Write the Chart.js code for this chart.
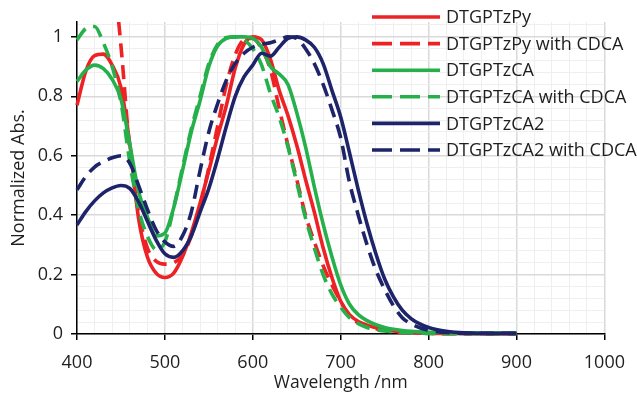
<!DOCTYPE html>
<html>
<head>
<meta charset="utf-8">
<script src="https://cdn.jsdelivr.net/npm/chart.js@4/dist/chart.umd.min.js"></script>
<style>
  html, body { margin: 0; padding: 0; background: #ffffff; }
  #wrap { width: 637px; height: 394px; position: relative; }
</style>
</head>
<body>
<div id="wrap"><canvas id="c" width="637" height="394"></canvas></div>
<script>
// ---- data ----
const wavelengths = [400,410,420,430,440,450,460,470,480,490,500,510,520,530,540,550,560,570,580,590,600,610,620,630,640,650,660,670,680,690,700,710,720,730,740,750,760,770,780,790,800,810,820,830,840,850,860,870,880,890,900];

const seriesNames = ["DTGPTzPy", "DTGPTzPy with CDCA", "DTGPTzCA", "DTGPTzCA with CDCA", "DTGPTzCA2", "DTGPTzCA2 with CDCA"];

const dtgptzPy = [0.77,0.885,0.937,0.942,0.905,0.83,0.64,0.39,0.26,0.205,0.19,0.205,0.26,0.34,0.44,0.55,0.665,0.77,0.895,0.975,1.0,0.99,0.925,0.82,0.735,0.635,0.52,0.41,0.29,0.19,0.11,0.065,0.042,0.03,0.021,0.015,0.01,0.007,0.005,0.004,0.003,0.002,0.002,0.002,0.002,0.002,0.001,0.001,0.001,0.001,0.001];

const dtgptzPyCDCA = [1.35,1.42,1.44,1.40,1.25,0.97,0.62,0.41,0.29,0.245,0.235,0.24,0.265,0.33,0.43,0.56,0.70,0.84,0.94,0.99,0.995,0.96,0.89,0.76,0.635,0.52,0.40,0.31,0.23,0.165,0.11,0.06,0.038,0.027,0.018,0.012,0.008,0.005,0.004,0.003,0.002,0.001,0.001,0.001,0.001,0.001,0.001,0.001,0.001,0.001,0.001];

const dtgptzCA = [0.85,0.888,0.905,0.893,0.857,0.79,0.64,0.48,0.395,0.33,0.34,0.425,0.55,0.68,0.785,0.90,0.97,0.995,1.0,1.0,0.995,0.965,0.90,0.875,0.84,0.745,0.63,0.495,0.37,0.26,0.165,0.10,0.065,0.045,0.031,0.022,0.016,0.012,0.009,0.007,0.006,0.005,0.004,0.004,0.004,0.004,0.003,0.003,0.003,0.003,0.003];

const dtgptzCACDCA = [0.99,1.028,1.035,0.98,0.90,0.78,0.58,0.42,0.33,0.285,0.31,0.425,0.56,0.69,0.80,0.91,0.975,0.998,1.0,0.99,0.96,0.905,0.81,0.73,0.63,0.51,0.39,0.29,0.20,0.135,0.09,0.055,0.035,0.022,0.015,0.01,0.007,0.005,0.004,0.003,0.002,0.002,0.001,0.001,0.001,0.001,0.001,0.001,0.001,0.001,0.001];

const dtgptzCA2 = [0.367,0.412,0.448,0.475,0.492,0.50,0.49,0.445,0.38,0.316,0.27,0.258,0.28,0.33,0.41,0.49,0.59,0.70,0.80,0.865,0.905,0.945,0.935,0.965,0.995,1.0,0.99,0.965,0.91,0.82,0.73,0.61,0.485,0.37,0.27,0.185,0.125,0.08,0.052,0.034,0.022,0.014,0.009,0.006,0.004,0.003,0.002,0.002,0.002,0.002,0.002];

const dtgptzCA2CDCA = [0.485,0.53,0.562,0.58,0.593,0.60,0.575,0.50,0.42,0.35,0.31,0.295,0.33,0.41,0.55,0.68,0.775,0.855,0.91,0.945,0.965,0.975,0.98,0.99,1.0,0.995,0.96,0.91,0.84,0.755,0.66,0.51,0.40,0.30,0.215,0.15,0.095,0.055,0.034,0.021,0.013,0.008,0.005,0.003,0.002,0.002,0.002,0.002,0.002,0.002,0.002];

const xTickLabels = ["400","500","600","700","800","900","1000"];
const yTickLabels = ["0","0.2","0.4","0.6","0.8","1"];

// ---- styles ----
const RED = '#ee2124', GREEN = '#26b04b', NAVY = '#1d2469';
const FONT = '"Open Sans", "Liberation Sans", sans-serif';
const TEXT = '#1e1e1e';
const DASH = [14, 8];

const seriesValues = [dtgptzPy, dtgptzPyCDCA, dtgptzCA, dtgptzCACDCA, dtgptzCA2, dtgptzCA2CDCA];
const seriesColors = [RED, RED, GREEN, GREEN, NAVY, NAVY];
const seriesDashed = [false, true, false, true, false, true];

const datasets = seriesValues.map((vals, i) => ({
  label: seriesNames[i],
  data: wavelengths.map((w, k) => ({x: w, y: vals[k]})),
  borderColor: seriesColors[i],
  backgroundColor: seriesColors[i],
  borderWidth: 3.6,
  borderDash: seriesDashed[i] ? DASH : [],
  pointRadius: 0,
  cubicInterpolationMode: 'monotone',
  fill: false,
  order: 10 - i,
  clip: {left: 2, top: 0, right: 2, bottom: 4}
}));

function isMult(v, step) {
  const r = v / step;
  return Math.abs(r - Math.round(r)) < 1e-6;
}

const legendPlugin = {
  id: 'insideLegend',
  afterDraw(chart) {
    const ctx = chart.ctx;
    chart.data.datasets.forEach((ds, i) => {
      const y = 17 + i * 26.6;
      ctx.save();
      ctx.strokeStyle = ds.borderColor;
      ctx.lineWidth = 3.6;
      ctx.setLineDash(seriesDashed[i] ? [20, 8] : []);
      ctx.beginPath();
      ctx.moveTo(372, y);
      ctx.lineTo(440, y);
      ctx.stroke();
      ctx.setLineDash([]);
      ctx.fillStyle = TEXT;
      ctx.font = '18px ' + FONT;
      ctx.textBaseline = 'middle';
      ctx.textAlign = 'left';
      ctx.fillText(ds.label, 446, y + 1);
      ctx.restore();
    });
  }
};

new Chart(document.getElementById('c'), {
  type: 'line',
  data: { datasets },
  plugins: [legendPlugin],
  options: {
    responsive: false,
    animation: false,
    events: [],
    layout: { padding: { top: 22, right: 29, left: 0, bottom: 0 } },
    plugins: { legend: { display: false }, tooltip: { enabled: false } },
    scales: {
      x: {
        type: 'linear',
        min: 400, max: 1000,
        afterBuildTicks(scale) {
          const t = [];
          for (let v = 400; v <= 1000; v += 20) t.push({value: v});
          scale.ticks = t;
        },
        afterFit(scale) { scale.height = 60; },
        ticks: {
          autoSkip: false,
          maxRotation: 0,
          padding: 12,
          color: TEXT,
          font: { family: FONT, size: 18 },
          callback(v) {
            if (!isMult(v, 100)) return '';
            const idx = Math.round((v - 400) / 100);
            return xTickLabels[idx];
          }
        },
        grid: {
          color: c => isMult(c.tick.value, 100) ? '#d9d9d9' : '#efefef',
          lineWidth: c => isMult(c.tick.value, 100) ? 1.5 : 1,
          tickColor: c => isMult(c.tick.value, 100) ? '#000000' : 'rgba(0,0,0,0)',
          tickLength: 6,
          tickWidth: 1.5
        },
        border: { color: '#000000', width: 1.5 },
        title: {
          display: true,
          text: 'Wavelength /nm',
          color: TEXT,
          font: { family: FONT, size: 17.5 },
          padding: { top: 0, bottom: 0 }
        }
      },
      y: {
        type: 'linear',
        min: 0, max: 1.05,
        afterBuildTicks(scale) {
          const t = [];
          for (let k = 0; k <= 26; k++) t.push({value: k * 0.04});
          scale.ticks = t;
        },
        afterFit(scale) { scale.width = 77; },
        ticks: {
          autoSkip: false,
          padding: 8,
          color: TEXT,
          font: { family: FONT, size: 18 },
          callback(v) {
            if (!isMult(v, 0.2)) return '';
            return yTickLabels[Math.round(v / 0.2)];
          }
        },
        grid: {
          color: c => isMult(c.tick.value, 0.2) ? '#d9d9d9' : '#efefef',
          lineWidth: c => isMult(c.tick.value, 0.2) ? 1.5 : 1,
          tickColor: c => isMult(c.tick.value, 0.2) ? '#000000' : 'rgba(0,0,0,0)',
          tickLength: 6,
          tickWidth: 1.5
        },
        border: { color: '#000000', width: 1.5 },
        title: {
          display: true,
          text: 'Normalized Abs.',
          color: TEXT,
          font: { family: FONT, size: 18 },
          padding: { top: 8, bottom: 0 }
        }
      }
    }
  }
});
</script>
</body>
</html>
